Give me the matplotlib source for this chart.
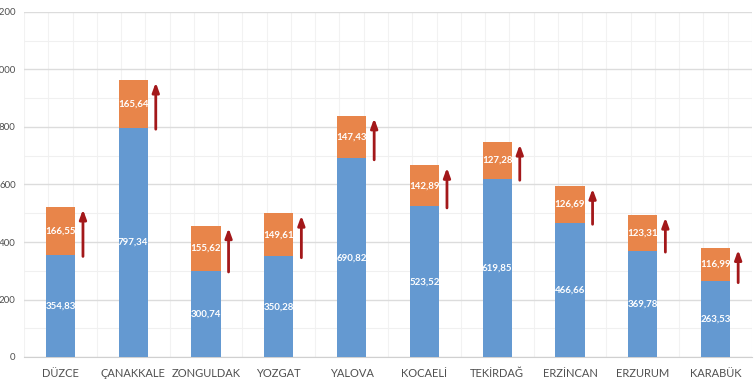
import matplotlib
matplotlib.use("Agg")
import matplotlib.pyplot as plt
import numpy as np
from matplotlib.ticker import MultipleLocator, FixedLocator

categories = ["DÜZCE", "ÇANAKKALE", "ZONGULDAK", "YOZGAT", "YALOVA",
              "KOCAELİ", "TEKİRDAĞ", "ERZİNCAN", "ERZURUM", "KARABÜK"]
base_values = [354.83, 797.34, 300.74, 350.28, 690.82, 523.52, 619.85, 466.66, 369.78, 263.53]
increase_values = [166.55, 165.64, 155.62, 149.61, 147.43, 142.89, 127.28, 126.69, 123.31, 116.99]
y_ticks = [0, 200, 400, 600, 800, 1000, 1200]

plt.rcParams['font.family'] = ['Lato', 'DejaVu Sans']

fig = plt.figure(figsize=(7.55, 3.9), dpi=100)
ax = fig.add_axes([24/755, 33/390, 728/755, 345/390])

x = np.arange(len(categories))
blue = "#6499d1"
orange = "#e8854a"
w = 0.4
ax.bar(x, base_values, width=w, color=blue, zorder=3)
ax.bar(x, increase_values, width=w, bottom=base_values, color=orange, zorder=3)

def fmt(v):
    return f"{v:.2f}".replace(".", ",")

for i in range(len(categories)):
    b = base_values[i]
    inc = increase_values[i]
    ax.text(x[i], b / 2, fmt(b), ha="center", va="center", color="white",
            fontsize=7, fontweight="bold", zorder=4)
    ax.text(x[i], b + inc / 2, fmt(inc), ha="center", va="center", color="white",
            fontsize=7, fontweight="bold", zorder=4)
    ax.annotate("", xy=(x[i] + 0.31, b + inc - 8), xytext=(x[i] + 0.31, b - 5),
                arrowprops=dict(arrowstyle="-|>,head_length=0.55,head_width=0.2",
                                color="#a3181a", lw=2.0, shrinkA=0, shrinkB=0),
                zorder=5)

ax.set_xlim(-0.5, len(categories) - 0.5)
ax.set_ylim(0, 1200)
ax.set_yticks(y_ticks)
ax.set_xticks(x)
ax.set_xticklabels(categories)
ax.yaxis.set_minor_locator(MultipleLocator(100))
ax.xaxis.set_minor_locator(FixedLocator(np.arange(-0.5, 9.6, 1/3)))
ax.grid(axis="y", which="major", color="#dcdcdc", lw=1.0, zorder=0)
ax.grid(axis="y", which="minor", color="#f0f0f0", lw=0.8, zorder=0)
ax.grid(axis="x", which="minor", color="#f2f2f2", lw=0.8, zorder=0)
ax.grid(axis="x", which="major", visible=False)

for s in ["top", "right", "left"]:
    ax.spines[s].set_visible(False)
ax.spines["bottom"].set_color("#d0d0d0")
ax.tick_params(axis="both", which="both", length=0)
ax.tick_params(axis="x", labelsize=8, colors="#505050", pad=8)
ax.tick_params(axis="y", labelsize=7, colors="#505050", pad=6)

fig.savefig("out.png", dpi=100)
